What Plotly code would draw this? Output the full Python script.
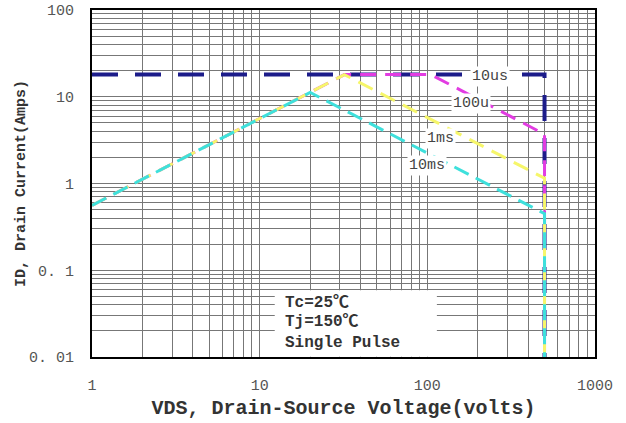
import plotly.graph_objects as go

# Safe operating area: drain current limits vs drain-source voltage
v_10us = [1, 500, 500]
i_10us = [18, 18, 0.01]

v_100us = [1, 32, 105, 500, 500]
i_100us = [0.56, 18, 18, 3.7, 0.01]

v_1ms = [1, 32, 500, 500]
i_1ms = [0.56, 18, 1.15, 0.01]

v_10ms = [1, 20, 500, 500]
i_10ms = [0.56, 11.2, 0.45, 0.01]

x_ticks = [1, 10, 100, 1000]
x_tick_text = ["1", "10", "100", "1000"]
y_ticks = [0.01, 0.1, 1, 10, 100]
y_tick_text = ["0. 01", "0. 1", "1", "10", "100"]

MONO = "Liberation Mono, Noto Sans CJK SC, monospace"

fig = go.Figure()
fig.add_trace(go.Scatter(x=v_10us, y=i_10us, mode="lines",
                         line=dict(color="#1c1c8a", width=4, dash="26px,17px")))
fig.add_trace(go.Scatter(x=v_100us, y=i_100us, mode="lines",
                         line=dict(color="#e23ce2", width=3, dash="16px,9px")))
fig.add_trace(go.Scatter(x=v_1ms, y=i_1ms, mode="lines",
                         line=dict(color="#f6f66a", width=3, dash="16px,9px")))
fig.add_trace(go.Scatter(x=v_10ms, y=i_10ms, mode="lines",
                         line=dict(color="#3ee0dc", width=3, dash="16px,8px")))

grid = "#777777"
fig.update_xaxes(
    type="log", range=[0, 3], tickvals=x_ticks, ticktext=x_tick_text,
    showgrid=True, gridcolor=grid, gridwidth=1,
    minor=dict(dtick="D1", showgrid=True, gridcolor=grid, gridwidth=1),
    showline=True, mirror=True, linecolor="black", linewidth=2,
    ticks="", ticklabelstandoff=13, zeroline=False,
    tickfont=dict(family=MONO, size=15, color="#555555"),
    title=dict(text="<b>VDS, Drain-Source Voltage(volts)</b>", standoff=6,
               font=dict(family=MONO, size=20, color="#333333")),
)
fig.update_yaxes(
    type="log", range=[-2, 2], tickvals=y_ticks, ticktext=y_tick_text,
    showgrid=True, gridcolor=grid, gridwidth=1,
    minor=dict(dtick="D1", showgrid=True, gridcolor=grid, gridwidth=1),
    showline=True, mirror=True, linecolor="black", linewidth=2,
    ticks="", ticklabelstandoff=13, zeroline=False,
    tickfont=dict(family=MONO, size=15, color="#555555"),
    title=dict(text="<b>ID, Drain Current(Amps)</b>", standoff=0,
               font=dict(family=MONO, size=15, color="#333333")),
)

# Condition box drawn over the grid in the lower middle of the chart
fig.add_shape(type="rect", xref="x", yref="y", x0=12.3, x1=114, y0=0.0101, y1=0.059,
              fillcolor="white", line=dict(width=0), layer="above")

cond_font = dict(family=MONO, size=16, color="#333333")
for txt, yy in [("<b>Tc=25℃</b>", -1.378), ("<b>Tj=150℃</b>", -1.597),
                ("<b>Single Pulse</b>", -1.839)]:
    fig.add_annotation(x=1.139, y=yy, xref="x", yref="y", text=txt, showarrow=False,
                       xanchor="left", yanchor="middle", font=cond_font)

# Pulse-width labels on the curves
lab_font = dict(family=MONO, size=15, color="#444444")
for txt, xx, yy in [("10us", 2.373, 1.228), ("100u", 2.260, 0.928),
                    ("1ms", 2.081, 0.524), ("10ms", 1.998, 0.213)]:
    fig.add_annotation(x=xx, y=yy, xref="x", yref="y", text=txt, showarrow=False,
                       bgcolor="white", borderpad=1, font=lab_font)

fig.update_layout(
    width=626, height=423, showlegend=False,
    margin=dict(l=92, r=31, t=10, b=66, autoexpand=False),
    paper_bgcolor="white", plot_bgcolor="white",
)

fig.write_html("out.html")
